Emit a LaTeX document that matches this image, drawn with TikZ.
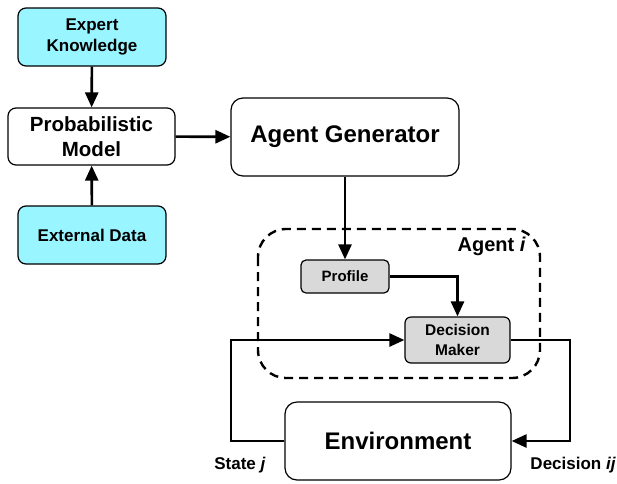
\documentclass[tikz,border=0pt]{standalone}
\usepackage{fontspec}
\setmainfont{Liberation Sans}
\usetikzlibrary{arrows.meta}
\definecolor{cyanfill}{RGB}{153,245,255}
\definecolor{grayfill}{RGB}{217,217,217}
\begin{document}
\begin{tikzpicture}[x=1pt,y=-1pt,
  box/.style={draw=black,line width=1.2pt,rounded corners=8pt,align=center,inner sep=0pt,font=\bfseries},
  conn/.style={line width=2.6pt,-{Triangle[length=15pt,width=13pt]}},
  plain/.style={line width=2.6pt}]
\useasboundingbox (0,0) rectangle (617,483);
\node[box,fill=cyanfill,minimum width=148pt,minimum height=58pt,font=\bfseries\fontsize{17}{21}\selectfont] (ek) at (92,37) {Expert\\Knowledge};
\node[box,fill=white,minimum width=167pt,minimum height=57pt,font=\bfseries\fontsize{20.5}{25}\selectfont] (pm) at (91.5,136.5) {Probabilistic\\Model};
\node[box,fill=cyanfill,minimum width=148pt,minimum height=58pt,font=\bfseries\fontsize{17}{21}\selectfont] (ed) at (92,235) {External Data};
\node[box,fill=white,minimum width=228pt,minimum height=78pt,rounded corners=12pt,font=\bfseries\fontsize{24}{28}\selectfont] (ag) at (345,137) {Agent Generator};
\draw[line width=2.4pt,dash pattern=on 9pt off 6pt,rounded corners=28pt] (258,229) rectangle (540,378);
\node[font=\bfseries\fontsize{20}{24}\selectfont,anchor=east,inner sep=0pt] (agl) at (526,246) {Agent \textit{i}};
\node[box,fill=grayfill,minimum width=88pt,minimum height=33pt,rounded corners=5pt,font=\bfseries\fontsize{15}{18}\selectfont] (pr) at (345,276.5) {Profile};
\node[box,fill=grayfill,minimum width=105pt,minimum height=46pt,rounded corners=6pt,font=\bfseries\fontsize{15.5}{20}\selectfont] (dm) at (457.5,340) {Decision\\Maker};
\node[box,fill=white,minimum width=226pt,minimum height=78pt,rounded corners=12pt,font=\bfseries\fontsize{24}{28}\selectfont] (env) at (398,441) {Environment};
\coordinate (rc) at (570,340);
\coordinate (lc) at (231,340);
\draw[conn] (ek) -- (pm);
\draw[conn] (ed) -- (pm);
\draw[conn] (pm) -- (ag);
\draw[conn] (ag.south -| pr.north) -- (pr.north);
\draw[conn] (pr.east) -| (dm.north);
\draw[conn] (dm.east) -- (rc) |- (env.east);
\draw[conn] (env.west) -| (lc) -- (dm.west);
\node[font=\bfseries\fontsize{17}{20}\selectfont,inner sep=0pt] (sl) at (240,465) {State \textit{j}};
\node[font=\bfseries\fontsize{17}{20}\selectfont,inner sep=0pt,anchor=east] (dl) at (616,465) {Decision \textit{ij}};
\end{tikzpicture}
\end{document}
